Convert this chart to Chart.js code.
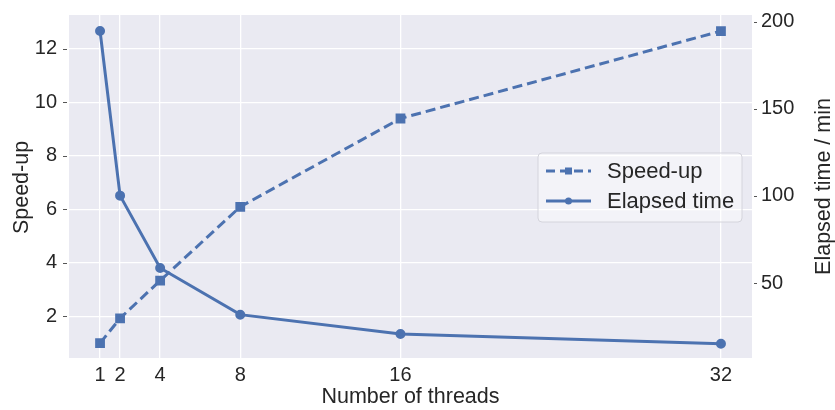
<!DOCTYPE html>
<html>
<head>
<meta charset="utf-8">
<script src="https://cdn.jsdelivr.net/npm/chart.js@4"></script>
<style>
  html, body { margin: 0; padding: 0; background: #fff; }
  #wrap { width: 835px; height: 410px; }
</style>
</head>
<body>
<div id="wrap"><canvas id="chart" width="835" height="410"></canvas></div>
<script>
// values
const threads = [1, 2, 4, 8, 16, 32];
const speedUp = [1.0, 1.93, 3.34, 6.1, 9.4, 12.67];
const elapsedMin = [194.8, 100.2, 58.6, 31.8, 20.7, 15.1];
const xTicks = [1, 2, 4, 8, 16, 32];
const leftTicks = [2, 4, 6, 8, 10, 12];
const rightTicks = [50, 100, 150, 200];

const blue = '#4C72B0';
const textColor = '#262626';
const fontFamily = '"Liberation Sans", Arial, sans-serif';

function toPoints(xs, ys) {
  var pts = [];
  for (var i = 0; i < xs.length; i++) {
    pts.push({ x: xs[i], y: ys[i] });
  }
  return pts;
}

function fixedTicks(values) {
  return function(scale) {
    scale.ticks = values.map(function(v) { return { value: v }; });
  };
}

// fixed axis sizes so the plot area sits where the reference has it
function fitY(width) {
  return function(s) {
    s.width = width;
    s.paddingTop = 0;
    s.paddingBottom = 0;
  };
}

// grey plot background like seaborn darkgrid
var bgPlugin = {
  id: 'bg',
  beforeDraw: function(chart) {
    var a = chart.chartArea;
    var ctx = chart.ctx;
    ctx.save();
    ctx.fillStyle = '#EAEAF2';
    ctx.fillRect(a.left, a.top, a.right - a.left, a.bottom - a.top);
    ctx.restore();
  }
};

// small tick dashes, axis titles and the legend box drawn by hand
var extrasPlugin = {
  id: 'extras',
  afterDraw: function(chart) {
    var ctx = chart.ctx;
    var a = chart.chartArea;
    var midY = (a.top + a.bottom) / 2;
    ctx.save();

    ctx.strokeStyle = '#555555';
    ctx.lineWidth = 1;
    leftTicks.forEach(function(v) {
      var py = Math.round(chart.scales.y.getPixelForValue(v)) + 0.5;
      ctx.beginPath();
      ctx.moveTo(63, py);
      ctx.lineTo(67, py);
      ctx.stroke();
    });
    rightTicks.forEach(function(v) {
      var py = Math.round(chart.scales.y2.getPixelForValue(v)) + 0.5;
      ctx.beginPath();
      ctx.moveTo(754, py);
      ctx.lineTo(757, py);
      ctx.stroke();
    });

    ctx.fillStyle = textColor;
    ctx.font = '21.5px ' + fontFamily;
    ctx.textAlign = 'center';
    ctx.textBaseline = 'alphabetic';
    ctx.fillText('Number of threads', (a.left + a.right) / 2, 403);

    ctx.save();
    ctx.translate(28, midY + 1);
    ctx.rotate(-Math.PI / 2);
    ctx.fillText('Speed-up', 0, 0);
    ctx.restore();

    ctx.save();
    ctx.translate(830, midY);
    ctx.rotate(-Math.PI / 2);
    ctx.fillText('Elapsed time / min', 0, 0);
    ctx.restore();

    // legend
    var lx = 538, ly = 153, lw = 204, lh = 69;
    ctx.beginPath();
    ctx.roundRect(lx, ly, lw, lh, 4);
    ctx.fillStyle = 'rgba(255,255,255,0.45)';
    ctx.fill();
    ctx.strokeStyle = '#D4D4DC';
    ctx.lineWidth = 1;
    ctx.stroke();

    var rows = [
      { label: chart.data.datasets[0].label, y: 171, dash: [9, 5], marker: 'rect' },
      { label: chart.data.datasets[1].label, y: 201, dash: [], marker: 'circle' }
    ];
    ctx.font = '22px ' + fontFamily;
    ctx.textBaseline = 'middle';
    rows.forEach(function(r) {
      ctx.strokeStyle = blue;
      ctx.lineWidth = 3;
      ctx.setLineDash(r.dash);
      ctx.beginPath();
      ctx.moveTo(546, r.y);
      ctx.lineTo(591, r.y);
      ctx.stroke();
      ctx.setLineDash([]);
      ctx.fillStyle = blue;
      if (r.marker === 'rect') {
        ctx.fillRect(565, r.y - 3.5, 7, 7);
      } else {
        ctx.beginPath();
        ctx.arc(568.5, r.y, 3.5, 0, Math.PI * 2);
        ctx.fill();
      }
      ctx.fillStyle = textColor;
      ctx.textAlign = 'left';
      ctx.fillText(r.label, 607, r.y + 1);
    });
    ctx.restore();
  }
};

new Chart(document.getElementById('chart'), {
  type: 'line',
  data: {
    datasets: [{
      label: 'Speed-up',
      data: toPoints(threads, speedUp),
      yAxisID: 'y',
      borderColor: blue,
      backgroundColor: blue,
      borderWidth: 3,
      borderDash: [10, 5],
      pointStyle: 'rect',
      pointRadius: 4.8,
      pointHoverRadius: 4.8,
      tension: 0
    }, {
      label: 'Elapsed time',
      data: toPoints(threads, elapsedMin),
      yAxisID: 'y2',
      borderColor: blue,
      backgroundColor: blue,
      borderWidth: 3,
      pointStyle: 'circle',
      pointRadius: 3.5,
      pointHoverRadius: 3.5,
      tension: 0
    }]
  },
  options: {
    responsive: false,
    animation: false,
    layout: { padding: { top: 15, left: 0, right: 0, bottom: 0 } },
    plugins: {
      legend: { display: false },
      tooltip: { enabled: false }
    },
    scales: {
      x: {
        type: 'linear',
        min: -0.55,
        max: 33.55,
        afterBuildTicks: fixedTicks(xTicks),
        afterFit: function(s) {
          s.height = 52;
          s.paddingLeft = 0;
          s.paddingRight = 0;
        },
        border: { display: false },
        grid: { color: '#FFFFFF', lineWidth: 1.3, drawTicks: false },
        ticks: {
          color: textColor,
          padding: 5,
          font: { size: 20, family: fontFamily },
          callback: function(v) { return String(v); }
        }
      },
      y: {
        position: 'left',
        min: 0.446,
        max: 13.27,
        afterBuildTicks: fixedTicks(leftTicks),
        afterFit: fitY(69),
        border: { display: false },
        grid: { color: '#FFFFFF', lineWidth: 1.3, drawTicks: false },
        ticks: {
          color: textColor,
          padding: 12,
          font: { size: 20, family: fontFamily },
          callback: function(v) { return String(v); }
        }
      },
      y2: {
        position: 'right',
        min: 6.9,
        max: 204,
        afterBuildTicks: fixedTicks(rightTicks),
        afterFit: fitY(83),
        border: { display: false },
        grid: { drawOnChartArea: false, drawTicks: false },
        ticks: {
          color: textColor,
          padding: 9,
          font: { size: 20, family: fontFamily },
          callback: function(v) { return String(v); }
        }
      }
    }
  },
  plugins: [bgPlugin, extrasPlugin]
});
</script>
</body>
</html>
